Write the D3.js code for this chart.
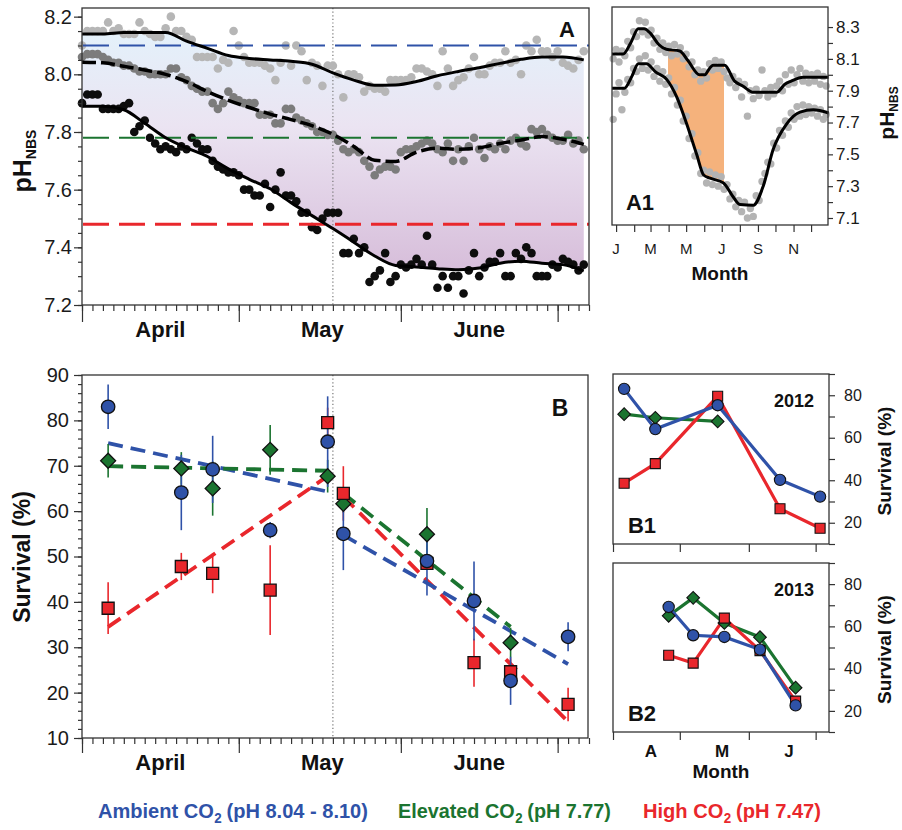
<!DOCTYPE html>
<html>
<head>
<meta charset="utf-8">
<script src="https://cdn.jsdelivr.net/npm/d3@7"></script>
<style>
  body { margin: 0; background: #fff; }
  svg { font-family: "Liberation Sans", Arial, sans-serif; }
  .lab { font-weight: bold; fill: #111; }
</style>
</head>
<body>
<svg id="fig" width="902" height="830"></svg>
<script>
// ---------- panel A : daily pH, 1 April -> 7 July ----------
const ambientPH = [
  8.10, 8.15, 8.15, 8.15, 8.15, 8.18, 8.15, 8.16, 8.14, 8.14,
  8.14, 8.18, 8.15, 8.14, 8.13, 8.13, 8.16, 8.20, 8.15, 8.15,
  8.13, 8.12, 8.06, 8.06, 8.06, 8.06, 8.02, 8.05, 8.04, 8.15,
  8.10, 8.06, 8.04, 8.04, 8.04, 8.03, 8.02, 7.98, 8.04, 8.10,
  8.03, 8.10, 8.08, 7.98, 8.04, 8.03, 7.96, 8.03, 8.03, 8.00,
  7.92, 8.00, 8.00, 7.99, 7.94, 7.96, 7.95, 7.95, 7.94, 7.98,
  7.98, 7.98, 7.98, 7.99, 8.02, 8.02, 8.01, 8.00, 7.96, 8.08,
  8.02, 7.96, 7.98, 7.99, 8.02, 8.06, 8.00, 8.00, 8.03, 8.04,
  8.04, 8.08, 8.04, 8.05, 8.00, 8.10, 8.08, 8.12, 8.08, 8.08,
  8.06, 8.08, 8.04, 8.03, 8.02, 8.05, 8.08];
const elevatedPH = [
  8.06, 8.07, 8.07, 8.07, 8.06, 8.05, 8.04, 8.04, 8.03, 8.03,
  8.02, 8.01, 8.01, 8.00, 8.00, 8.00, 8.00, 8.02, 8.02, 7.99,
  7.98, 7.96, 7.95, 7.94, 7.94, 7.90, 7.88, 7.90, 7.94, 7.92,
  7.91, 7.90, 7.90, 7.90, 7.86, 7.86, 7.86, 7.83, 7.83, 7.88,
  7.88, 7.85, 7.84, 7.83, 7.82, 7.80, 7.80, 7.79, 7.79, 7.77,
  7.74, 7.73, 7.74, 7.73, 7.70, 7.68, 7.65, 7.67, 7.68, 7.68,
  7.67, 7.73, 7.74, 7.74, 7.75, 7.76, 7.77, 7.76, 7.74, 7.73,
  7.76, 7.70, 7.74, 7.70, 7.75, 7.78, 7.74, 7.71, 7.75, 7.74,
  7.76, 7.74, 7.77, 7.78, 7.76, 7.75, 7.81, 7.80, 7.81, 7.79,
  7.78, 7.77, 7.77, 7.79, 7.76, 7.77, 7.74];
const highPH = [
  7.90, 7.93, 7.93, 7.93, 7.88, 7.88, 7.88, 7.88, 7.89, 7.90,
  7.80, 7.82, 7.84, 7.78, 7.76, 7.74, 7.75, 7.74, 7.73, 7.75,
  7.74, 7.78, 7.76, 7.74, 7.74, 7.70, 7.68, 7.67, 7.66, 7.66,
  7.65, 7.60, 7.60, 7.58, 7.58, 7.62, 7.54, 7.60, 7.66, 7.58,
  7.58, 7.56, 7.52, 7.52, 7.47, 7.46, 7.50, 7.52, 7.52, 7.52,
  7.38, 7.38, 7.43, 7.38, 7.40, 7.28, 7.30, 7.32, 7.38, 7.28,
  7.30, 7.34, 7.33, 7.34, 7.36, 7.34, 7.44, 7.34, 7.26, 7.30,
  7.26, 7.30, 7.30, 7.24, 7.32, 7.38, 7.30, 7.33, 7.35, 7.35,
  7.38, 7.30, 7.30, 7.38, 7.36, 7.40, 7.38, 7.30, 7.30, 7.30,
  7.34, 7.33, 7.36, 7.35, 7.34, 7.32, 7.34];
// running mean lines (day after 1 April)
const smoothDays = [0, 4, 8, 12, 16, 20, 24, 28, 32, 36, 40, 44, 48, 52, 56, 60, 64, 68, 72, 76, 80, 84, 88, 92, 96];
const ambientSmooth = [8.14, 8.14, 8.145, 8.145, 8.145, 8.115, 8.09, 8.065, 8.055, 8.05, 8.045, 8.035, 8.005,
  7.98, 7.962, 7.963, 7.975, 7.995, 8.01, 8.023, 8.038, 8.052, 8.06, 8.06, 8.05];
const elevatedSmooth = [8.042, 8.04, 8.028, 8.015, 8.0, 7.975, 7.94, 7.91, 7.885, 7.862, 7.843, 7.822, 7.792,
  7.75, 7.702, 7.698, 7.73, 7.744, 7.74, 7.745, 7.76, 7.772, 7.784, 7.775, 7.757];
const highSmooth = [7.889, 7.889, 7.877, 7.83, 7.78, 7.745, 7.715, 7.672, 7.636, 7.603, 7.555, 7.51, 7.465,
  7.418, 7.37, 7.337, 7.332, 7.326, 7.322, 7.328, 7.345, 7.352, 7.345, 7.34, 7.318];
const targetPH = [8.10, 7.78, 7.48];
const monthNames = ['April', 'May', 'June'];
const monthMids = ['04-16', '05-17', '06-16'];
const splitDate = '05-19';

// ---------- panel A1 : whole year (day of year) ----------
const a1UpperDays = [-7, 12, 25, 38, 48, 59, 73, 86, 109, 123, 143, 152, 160, 166, 186, 203, 217, 235, 275, 289, 300, 320, 364];
const a1Upper = [8.13, 8.13, 8.2, 8.29, 8.29, 8.26, 8.19, 8.16, 8.15, 8.09, 8.0, 8.0, 8.04, 8.06, 8.06, 7.96, 7.93, 7.89, 7.89, 7.94, 7.96, 7.985, 7.985];
const a1LowerDays = [-7, 14, 27, 38, 52, 67, 87, 104, 121, 138, 150, 161, 184, 201, 212, 235, 252, 269, 292, 315, 338, 364];
const a1Lower = [7.915, 7.915, 7.99, 8.07, 8.07, 8.02, 7.97, 7.86, 7.69, 7.5, 7.37, 7.35, 7.32, 7.23, 7.185, 7.18, 7.3, 7.53, 7.69, 7.765, 7.78, 7.76];
const a1UpperObs = [
  8.10, 8.16, 8.08, 8.15, 8.12, 8.21, 8.17, 8.27, 8.24, 8.34,
  8.27, 8.33, 8.25, 8.28, 8.20, 8.23, 8.16, 8.20, 8.14, 8.18,
  8.12, 8.19, 8.13, 8.17, 8.10, 8.13, 8.05, 8.08, 8.00, 8.03,
  7.96, 8.02, 7.98, 8.07, 8.03, 8.09, 8.04, 8.08, 8.02, 7.98,
  7.95, 7.99, 7.92, 7.96, 7.86, 7.94, 7.74, 7.90, 7.85, 7.91,
  7.87, 8.03, 7.90, 7.86, 7.92, 7.88, 7.93, 7.96, 7.90, 8.00,
  7.94, 8.03, 7.95, 8.00, 8.04, 7.96, 8.01, 7.95, 8.00, 7.96,
  8.01, 7.94, 7.99, 7.93];
const a1LowerObs = [
  7.72, 7.88, 7.95, 7.78, 7.89, 7.97, 7.95, 8.04, 8.02, 8.10,
  8.04, 8.12, 8.03, 8.08, 7.99, 8.04, 7.96, 8.02, 7.94, 7.98,
  7.88, 7.92, 7.81, 7.84, 7.71, 7.74, 7.60, 7.63, 7.49, 7.51,
  7.38, 7.40, 7.32, 7.39, 7.31, 7.37, 7.30, 7.36, 7.28, 7.31,
  7.22, 7.25, 7.17, 7.21, 7.14, 7.20, 7.10, 7.16, 7.11, 7.24,
  7.21, 7.33, 7.38, 7.45, 7.44, 7.57, 7.54, 7.65, 7.62, 7.71,
  7.67, 7.76, 7.72, 7.80, 7.74, 7.81, 7.75, 7.80, 7.76, 7.79,
  7.74, 7.78, 7.72, 7.75];
const a1ObsDays = d3.range(-5, 361, 5);
const a1Shade = ['2013-03-31', '2013-07-05'];
const a1MonthLetters = ['J', 'M', 'M', 'J', 'S', 'N'];
const a1MonthDates = ['2013-01-01', '2013-03-01', '2013-05-01', '2013-07-01', '2013-09-01', '2013-11-01'];

// ---------- panel B : survival (%) ----------
const dates2012 = ['04-06', '04-20', '05-18', '06-15', '07-03'];
const ambient2012 = [83.0, 64.1, 75.3, 40.2, 32.3];
const ambientErr2012 = [4.9, 8.3, 10.0, 8.7, 3.2];
const elevated2012 = [71.1, 69.4, 67.7, null, null];
const elevatedErr2012 = [3.7, 3.6, 3.6, null, null];
const high2012 = [38.6, 47.8, 79.5, 26.6, 17.4];
const highErr2012 = [5.7, 3.0, 3.3, 5.3, 3.7];
const dates2013 = ['04-26', '05-07', '05-21', '06-06', '06-22'];
const ambient2013 = [69.2, 55.8, 55.0, 49.0, 22.6];
const ambientErr2013 = [7.4, 1.8, 8.0, 7.6, 5.3];
const elevated2013 = [65.0, 73.5, 61.6, 54.9, 31.0];
const elevatedErr2013 = [6.0, 5.5, 2.0, 5.8, 3.3];
const high2013 = [46.3, 42.6, 63.9, 48.5, 24.6];
const highErr2013 = [4.4, 9.9, 6.0, 1.5, 3.0];
// fitted trends before / after the split date
const trendBeforeDates = ['04-06', '05-18'];
const trendAfterDates = ['05-21', '07-03'];
const elevatedAfterDates = ['05-21', '06-22'];
const ambientTrendBefore = [75.0, 64.3], ambientTrendAfter = [54.7, 26.3];
const elevatedTrendBefore = [69.9, 68.9], elevatedTrendAfter = [63.9, 34.5];
const highTrendBefore = [34.5, 67.7], highTrendAfter = [63.2, 13.6];
const b2MonthLetters = ['A', 'M', 'J'];
const b2MonthDates = ['04-18', '05-20', '06-19'];

const blue = '#2f52a8', green = '#1b7430', red = '#e9272c';
const axisColor = '#333';
const svg = d3.select('#fig');
const parse = d3.timeParse('%Y-%m-%d');
const md = s => parse('2013-' + s);
const seasonStart = parse('2013-04-01'), seasonEnd = parse('2013-07-07');
const dayDate = d => d3.timeDay.offset(seasonStart, d);
const jan1 = parse('2013-01-01');
const doy = d => d3.timeDay.offset(jan1, d);

function styleAxis(g, size) {
    g.attr('font-size', size)
        .attr('font-family', '"Liberation Sans", Arial, sans-serif')
        .attr('color', axisColor);
    g.select('.domain').remove();
    g.selectAll('line').attr('stroke-width', 1.2);
    g.selectAll('text').attr('fill', '#1a1a1a');
    return g;
}

function frame(x0, y0, x1, y1) {
    svg.append('rect')
        .attr('x', x0).attr('y', y0)
        .attr('width', x1 - x0).attr('height', y1 - y0)
        .attr('fill', 'none').attr('stroke', axisColor).attr('stroke-width', 1.3);
}

// ================= Panel A =================
let xA = d3.scaleTime().domain([seasonStart, seasonEnd]).range([82, 589]);
let yA = d3.scaleLinear().domain([7.2, 8.23]).range([305, 8]);

let defs = svg.append('defs');
let grad = defs.append('linearGradient').attr('id', 'phFill')
    .attr('gradientUnits', 'userSpaceOnUse')
    .attr('x1', 0).attr('x2', 0).attr('y1', yA(8.17)).attr('y2', yA(7.3));
grad.append('stop').attr('offset', '0%').attr('stop-color', '#e3f2fb');
grad.append('stop').attr('offset', '40%').attr('stop-color', '#ebe4f2');
grad.append('stop').attr('offset', '100%').attr('stop-color', '#d6bcd9');

let smooth = smoothDays.map((d, i) => ({ date: dayDate(d), amb: ambientSmooth[i], ele: elevatedSmooth[i], high: highSmooth[i] }));

svg.append('path')
    .datum(smooth)
    .attr('fill', 'url(#phFill)')
    .attr('d', d3.area().curve(d3.curveMonotoneX)
        .x(d => xA(d.date)).y0(d => yA(d.high)).y1(d => yA(d.amb)));

// split line
svg.append('line')
    .attr('x1', xA(md(splitDate))).attr('x2', xA(md(splitDate)))
    .attr('y1', 8).attr('y2', 305)
    .attr('stroke', '#777').attr('stroke-width', 1.2).attr('stroke-dasharray', '1.2,2.4');

let dotSeries = [
    { vals: ambientPH, color: '#b6b6b6' },
    { vals: elevatedPH, color: '#7c7c7c' },
    { vals: highPH, color: '#0d0d0d' }
];
dotSeries.forEach(function (s) {
    svg.append('g').selectAll('circle')
        .data(s.vals)
        .enter().append('circle')
        .attr('cx', (d, i) => xA(dayDate(i)))
        .attr('cy', d => yA(d))
        .attr('r', 4.3)
        .attr('fill', s.color);
});

// target pH lines
let targetColors = [blue, green, red];
let targetWidths = [2.2, 2.2, 3];
svg.append('g').selectAll('line')
    .data(targetPH)
    .enter().append('line')
    .attr('x1', 83).attr('x2', 589)
    .attr('y1', d => yA(d)).attr('y2', d => yA(d))
    .attr('stroke', (d, i) => targetColors[i])
    .attr('stroke-width', (d, i) => targetWidths[i])
    .attr('stroke-dasharray', '26,10');

let lineA = key => d3.line().curve(d3.curveMonotoneX).x(d => xA(d.date)).y(d => yA(d[key]));
svg.append('path').datum(smooth).attr('fill', 'none').attr('stroke', '#000').attr('stroke-width', 3).attr('d', lineA('amb'));
svg.append('path').datum(smooth).attr('fill', 'none').attr('stroke', '#000').attr('stroke-width', 3.5)
    .attr('stroke-dasharray', '14,5').attr('d', lineA('ele'));
svg.append('path').datum(smooth).attr('fill', 'none').attr('stroke', '#000').attr('stroke-width', 3).attr('d', lineA('high'));

frame(82, 8, 589, 305);

styleAxis(svg.append('g').attr('transform', 'translate(82,0)')
    .call(d3.axisLeft(yA).tickValues(d3.range(7.2, 8.21, 0.05)).tickSize(4).tickFormat('')), 20);
styleAxis(svg.append('g').attr('transform', 'translate(82,0)')
    .call(d3.axisLeft(yA).tickValues([7.2, 7.4, 7.6, 7.8, 8.0, 8.2]).tickSize(8).tickPadding(2).tickFormat(d3.format('.1f'))), 20);
styleAxis(svg.append('g').attr('transform', 'translate(0,305)')
    .call(d3.axisBottom(xA).ticks(d3.timeDay.every(2)).tickSize(6).tickFormat('')), 12);
styleAxis(svg.append('g').attr('transform', 'translate(0,305)')
    .call(d3.axisBottom(xA).ticks(d3.timeMonth).tickSize(17).tickFormat('')), 12);

svg.append('g').selectAll('text')
    .data(monthNames)
    .enter().append('text')
    .attr('class', 'lab')
    .attr('x', (d, i) => xA(md(monthMids[i])))
    .attr('y', 337)
    .attr('text-anchor', 'middle')
    .attr('font-size', 22)
    .text(d => d);

let phLab = svg.append('text').attr('class', 'lab')
    .attr('transform', 'translate(31,161) rotate(-90)')
    .attr('text-anchor', 'middle');
phLab.append('tspan').attr('font-size', 25).text('pH');
phLab.append('tspan').attr('font-size', 14).attr('dy', 5).text('NBS');

svg.append('text').attr('class', 'lab').attr('x', 567).attr('y', 37)
    .attr('text-anchor', 'middle').attr('font-size', 22).text('A');

// ================= Panel A1 =================
let xA1 = d3.scaleTime().domain([parse('2012-12-25'), parse('2013-12-30')]).range([612, 828]);
let yA1 = d3.scaleLinear().domain([7.056, 8.426]).range([225, 7]);

let upperPts = a1UpperDays.map((d, i) => ({ date: doy(d), v: a1Upper[i] }));
let lowerPts = a1LowerDays.map((d, i) => ({ date: doy(d), v: a1Lower[i] }));

defs.append('clipPath').attr('id', 'shadeWin').append('rect')
    .attr('x', xA1(parse(a1Shade[0]))).attr('y', 7)
    .attr('width', xA1(parse(a1Shade[1])) - xA1(parse(a1Shade[0]))).attr('height', 218);
defs.append('clipPath').attr('id', 'belowUpper').append('path')
    .datum(upperPts)
    .attr('d', d3.area().curve(d3.curveMonotoneX).x(d => xA1(d.date)).y0(225).y1(d => yA1(d.v)));

svg.append('g').attr('clip-path', 'url(#shadeWin)')
    .append('g').attr('clip-path', 'url(#belowUpper)')
    .append('path')
    .datum(lowerPts)
    .attr('fill', '#f5b27c')
    .attr('d', d3.area().curve(d3.curveMonotoneX).x(d => xA1(d.date)).y0(7).y1(d => yA1(d.v)));

[a1UpperObs, a1LowerObs].forEach(function (obs) {
    svg.append('g').selectAll('circle')
        .data(obs)
        .enter().append('circle')
        .attr('cx', (d, i) => xA1(doy(a1ObsDays[i])))
        .attr('cy', d => yA1(d))
        .attr('r', 3.7)
        .attr('fill', '#b3b3b3');
});

let lineA1 = d3.line().curve(d3.curveMonotoneX).x(d => xA1(d.date)).y(d => yA1(d.v));
svg.append('path').datum(upperPts).attr('fill', 'none').attr('stroke', '#000').attr('stroke-width', 3).attr('d', lineA1);
svg.append('path').datum(lowerPts).attr('fill', 'none').attr('stroke', '#000').attr('stroke-width', 3).attr('d', lineA1);

frame(612, 7, 828, 225);

let a1Labels = [7.1, 7.3, 7.5, 7.7, 7.9, 8.1, 8.3];
styleAxis(svg.append('g').attr('transform', 'translate(828,0)')
    .call(d3.axisRight(yA1).tickValues(d3.range(7.1, 8.31, 0.1)).tickSize(5).tickPadding(3)
        .tickFormat(d => a1Labels.some(l => Math.abs(l - d) < 0.01) ? d3.format('.1f')(d) : '')), 17);
styleAxis(svg.append('g').attr('transform', 'translate(0,225)')
    .call(d3.axisBottom(xA1).ticks(d3.timeMonth).tickSize(7).tickFormat('')), 12);

svg.append('g').selectAll('text')
    .data(a1MonthLetters)
    .enter().append('text')
    .attr('x', (d, i) => xA1(parse(a1MonthDates[i])))
    .attr('y', 254)
    .attr('text-anchor', 'middle')
    .attr('font-size', 15)
    .attr('fill', '#1a1a1a')
    .text(d => d);

svg.append('text').attr('class', 'lab').attr('x', 720).attr('y', 280)
    .attr('text-anchor', 'middle').attr('font-size', 19).text('Month');
svg.append('text').attr('class', 'lab').attr('x', 640).attr('y', 210)
    .attr('text-anchor', 'middle').attr('font-size', 22).text('A1');

let phLab1 = svg.append('text').attr('class', 'lab')
    .attr('transform', 'translate(894,113) rotate(-90)')
    .attr('text-anchor', 'middle');
phLab1.append('tspan').attr('font-size', 21).text('pH');
phLab1.append('tspan').attr('font-size', 12).attr('dy', 4).text('NBS');

// ================= Panel B =================
let yB = d3.scaleLinear().domain([10, 90]).range([738, 375]);

svg.append('line')
    .attr('x1', xA(md(splitDate))).attr('x2', xA(md(splitDate)))
    .attr('y1', 375).attr('y2', 738)
    .attr('stroke', '#777').attr('stroke-width', 1.2).attr('stroke-dasharray', '1.2,2.4');

let allDates = dates2012.concat(dates2013);
let groups = [
    { color: green, shape: 'diamond', vals: elevated2012.concat(elevated2013), errs: elevatedErr2012.concat(elevatedErr2013) },
    { color: red, shape: 'square', vals: high2012.concat(high2013), errs: highErr2012.concat(highErr2013) },
    { color: blue, shape: 'circle', vals: ambient2012.concat(ambient2013), errs: ambientErr2012.concat(ambientErr2013) }
];

// trend lines
let trends = [
    { color: red, segs: [[trendBeforeDates, highTrendBefore], [trendAfterDates, highTrendAfter]] },
    { color: blue, segs: [[trendBeforeDates, ambientTrendBefore], [trendAfterDates, ambientTrendAfter]] },
    { color: green, segs: [[trendBeforeDates, elevatedTrendBefore], [elevatedAfterDates, elevatedTrendAfter]] }
];
trends.forEach(function (t) {
    t.segs.forEach(function (seg) {
        svg.append('line')
            .attr('x1', xA(md(seg[0][0]))).attr('y1', yB(seg[1][0]))
            .attr('x2', xA(md(seg[0][1]))).attr('y2', yB(seg[1][1]))
            .attr('stroke', t.color).attr('stroke-width', 3.8)
            .attr('stroke-dasharray', '15,8');
    });
});

function markerPath(shape, area) {
    return d3.symbol(shape === 'circle' ? d3.symbolCircle : d3.symbolSquare, area)();
}
function markerTransform(shape, x, y) {
    return `translate(${x},${y})` + (shape === 'diamond' ? ' rotate(45)' : '');
}

let mainSize = { circle: 142, square: 144, diamond: 112 };
groups.forEach(function (g) {
    let pts = g.vals.map((v, i) => ({ date: md(allDates[i]), v: v, e: g.errs[i] })).filter(d => d.v != null);
    svg.append('g').selectAll('line')
        .data(pts)
        .enter().append('line')
        .attr('x1', d => xA(d.date)).attr('x2', d => xA(d.date))
        .attr('y1', d => yB(d.v - d.e)).attr('y2', d => yB(d.v + d.e))
        .attr('stroke', g.color).attr('stroke-width', 1.6);
});
groups.forEach(function (g) {
    let pts = g.vals.map((v, i) => ({ date: md(allDates[i]), v: v })).filter(d => d.v != null);
    svg.append('g').selectAll('path')
        .data(pts)
        .enter().append('path')
        .attr('d', markerPath(g.shape, mainSize[g.shape]))
        .attr('transform', d => markerTransform(g.shape, xA(d.date), yB(d.v)))
        .attr('fill', g.color)
        .attr('stroke', '#111').attr('stroke-width', 1.3);
});

frame(82, 375, 588, 738);

styleAxis(svg.append('g').attr('transform', 'translate(82,0)')
    .call(d3.axisLeft(yB).tickValues(d3.range(10, 90.1, 2)).tickSize(4).tickFormat('')), 19);
styleAxis(svg.append('g').attr('transform', 'translate(82,0)')
    .call(d3.axisLeft(yB).tickValues(d3.range(10, 90.1, 10)).tickSize(8).tickPadding(5)), 20);
styleAxis(svg.append('g').attr('transform', 'translate(0,738)')
    .call(d3.axisBottom(xA).ticks(d3.timeDay.every(2)).tickSize(6).tickFormat('')), 12);
styleAxis(svg.append('g').attr('transform', 'translate(0,738)')
    .call(d3.axisBottom(xA).ticks(d3.timeMonth).tickSize(15).tickFormat('')), 12);

svg.append('g').selectAll('text')
    .data(monthNames)
    .enter().append('text')
    .attr('class', 'lab')
    .attr('x', (d, i) => xA(md(monthMids[i])))
    .attr('y', 770)
    .attr('text-anchor', 'middle')
    .attr('font-size', 22)
    .text(d => d);

svg.append('text').attr('class', 'lab')
    .attr('transform', 'translate(30,557) rotate(-90)')
    .attr('text-anchor', 'middle').attr('font-size', 23).text('Survival (%)');
svg.append('text').attr('class', 'lab').attr('x', 560).attr('y', 416)
    .attr('text-anchor', 'middle').attr('font-size', 23).text('B');

// ================= Panels B1 / B2 =================
let xSmall = d3.scaleTime().domain([seasonStart, seasonEnd]).range([613, 829]);
let smallSize = { circle: 100, square: 100, diamond: 80 };

function yearPanel(top, bottom, dates, amb, ele, high, yearText, panelText) {
    let y = d3.scaleLinear().domain([10, 90]).range([bottom, top]);
    let series = [
        { color: green, shape: 'diamond', vals: ele },
        { color: red, shape: 'square', vals: high },
        { color: blue, shape: 'circle', vals: amb }
    ];
    series.forEach(function (s) {
        let pts = s.vals.map((v, i) => ({ date: md(dates[i]), v: v })).filter(d => d.v != null);
        svg.append('path').datum(pts)
            .attr('fill', 'none').attr('stroke', s.color).attr('stroke-width', 3.2)
            .attr('d', d3.line().x(d => xSmall(d.date)).y(d => y(d.v)));
    });
    series.forEach(function (s) {
        let pts = s.vals.map((v, i) => ({ date: md(dates[i]), v: v })).filter(d => d.v != null);
        svg.append('g').selectAll('path')
            .data(pts)
            .enter().append('path')
            .attr('d', markerPath(s.shape, smallSize[s.shape]))
            .attr('transform', d => markerTransform(s.shape, xSmall(d.date), y(d.v)))
            .attr('fill', s.color)
            .attr('stroke', '#111').attr('stroke-width', 1.1);
    });
    frame(613, top, 829, bottom);
    styleAxis(svg.append('g').attr('transform', 'translate(829,0)')
        .call(d3.axisRight(y).tickValues(d3.range(10, 90.1, 10)).tickSize(6).tickPadding(9)
            .tickFormat(d => d % 20 === 0 && d > 10 && d < 90 ? d : '')), 16);
    styleAxis(svg.append('g').attr('transform', `translate(0,${bottom})`)
        .call(d3.axisBottom(xSmall).ticks(d3.timeMonth).tickSize(8).tickFormat('')), 12);
    svg.append('text').attr('class', 'lab').attr('x', 794).attr('y', top + 33)
        .attr('text-anchor', 'middle').attr('font-size', 18).text(yearText);
    svg.append('text').attr('class', 'lab').attr('x', 642).attr('y', bottom - 11)
        .attr('text-anchor', 'middle').attr('font-size', 22).text(panelText);
    svg.append('text').attr('class', 'lab')
        .attr('transform', `translate(891,${(top + bottom) / 2 + 2}) rotate(-90)`)
        .attr('text-anchor', 'middle').attr('font-size', 19).text('Survival (%)');
}

yearPanel(374, 544, dates2012, ambient2012, elevated2012, high2012, '2012', 'B1');
yearPanel(563, 732, dates2013, ambient2013, elevated2013, high2013, '2013', 'B2');

svg.append('g').selectAll('text')
    .data(b2MonthLetters)
    .enter().append('text')
    .attr('class', 'lab')
    .attr('x', (d, i) => xSmall(md(b2MonthDates[i])))
    .attr('y', 757)
    .attr('text-anchor', 'middle')
    .attr('font-size', 17)
    .text(d => d);
svg.append('text').attr('class', 'lab').attr('x', 721).attr('y', 778)
    .attr('text-anchor', 'middle').attr('font-size', 19).text('Month');

// ================= legend =================
// each entry: condensed bold text, pieces laid out one after another
let legendItems = [
    { pre: 'Ambient CO', post: '(pH 8.04 - 8.10)', color: blue, x: 98, w: 270 },
    { pre: 'Elevated CO', post: '(pH 7.77)', color: green, x: 398, w: 213 },
    { pre: 'High CO', post: '(pH 7.47)', color: red, x: 643, w: 178 }
];
legendItems.forEach(function (d) {
    let g = svg.append('g').attr('fill', d.color).attr('font-weight', 'bold');
    let pieces = [
        { text: d.pre, size: 21, dy: 0, gap: 0 },
        { text: '2', size: 14, dy: 5, gap: 0.5 },
        { text: d.post, size: 21, dy: 0, gap: 5 }
    ];
    let cx = 0;
    pieces.forEach(function (p) {
        cx += p.gap;
        let t = g.append('text').attr('x', cx).attr('y', p.dy)
            .attr('font-size', p.size).text(p.text);
        cx += t.node().getComputedTextLength();
    });
    let sx = d.w / cx;
    g.attr('transform', `translate(${d.x},818) scale(${sx},1)`);
});
</script>
</body>
</html>
